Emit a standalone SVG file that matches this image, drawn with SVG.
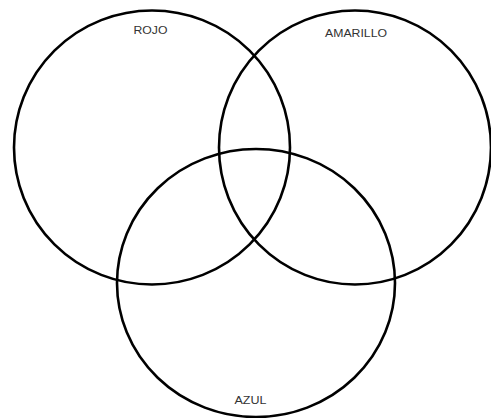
<svg xmlns="http://www.w3.org/2000/svg" width="491" height="418" viewBox="0 0 491 418">
<style>
.c{fill:none;stroke:#000;stroke-width:2.6}
.t{font-family:"Liberation Sans",Arial,sans-serif;font-size:10.5px;fill:#333;text-anchor:middle}
</style>
<rect width="491" height="418" fill="#fff"/>
<g id="rojo"><ellipse class="c" cx="152" cy="147.5" rx="138" ry="137"/><text class="t" x="150.5" y="33.5" textLength="34" lengthAdjust="spacingAndGlyphs">ROJO</text></g>
<g id="amarillo"><ellipse class="c" cx="355" cy="147.5" rx="136" ry="137"/><text class="t" x="356" y="37" textLength="62" lengthAdjust="spacingAndGlyphs">AMARILLO</text></g>
<g id="azul"><ellipse class="c" cx="256" cy="283" rx="139" ry="134"/><text class="t" x="250.5" y="403.5" textLength="32" lengthAdjust="spacingAndGlyphs">AZUL</text></g>
</svg>
